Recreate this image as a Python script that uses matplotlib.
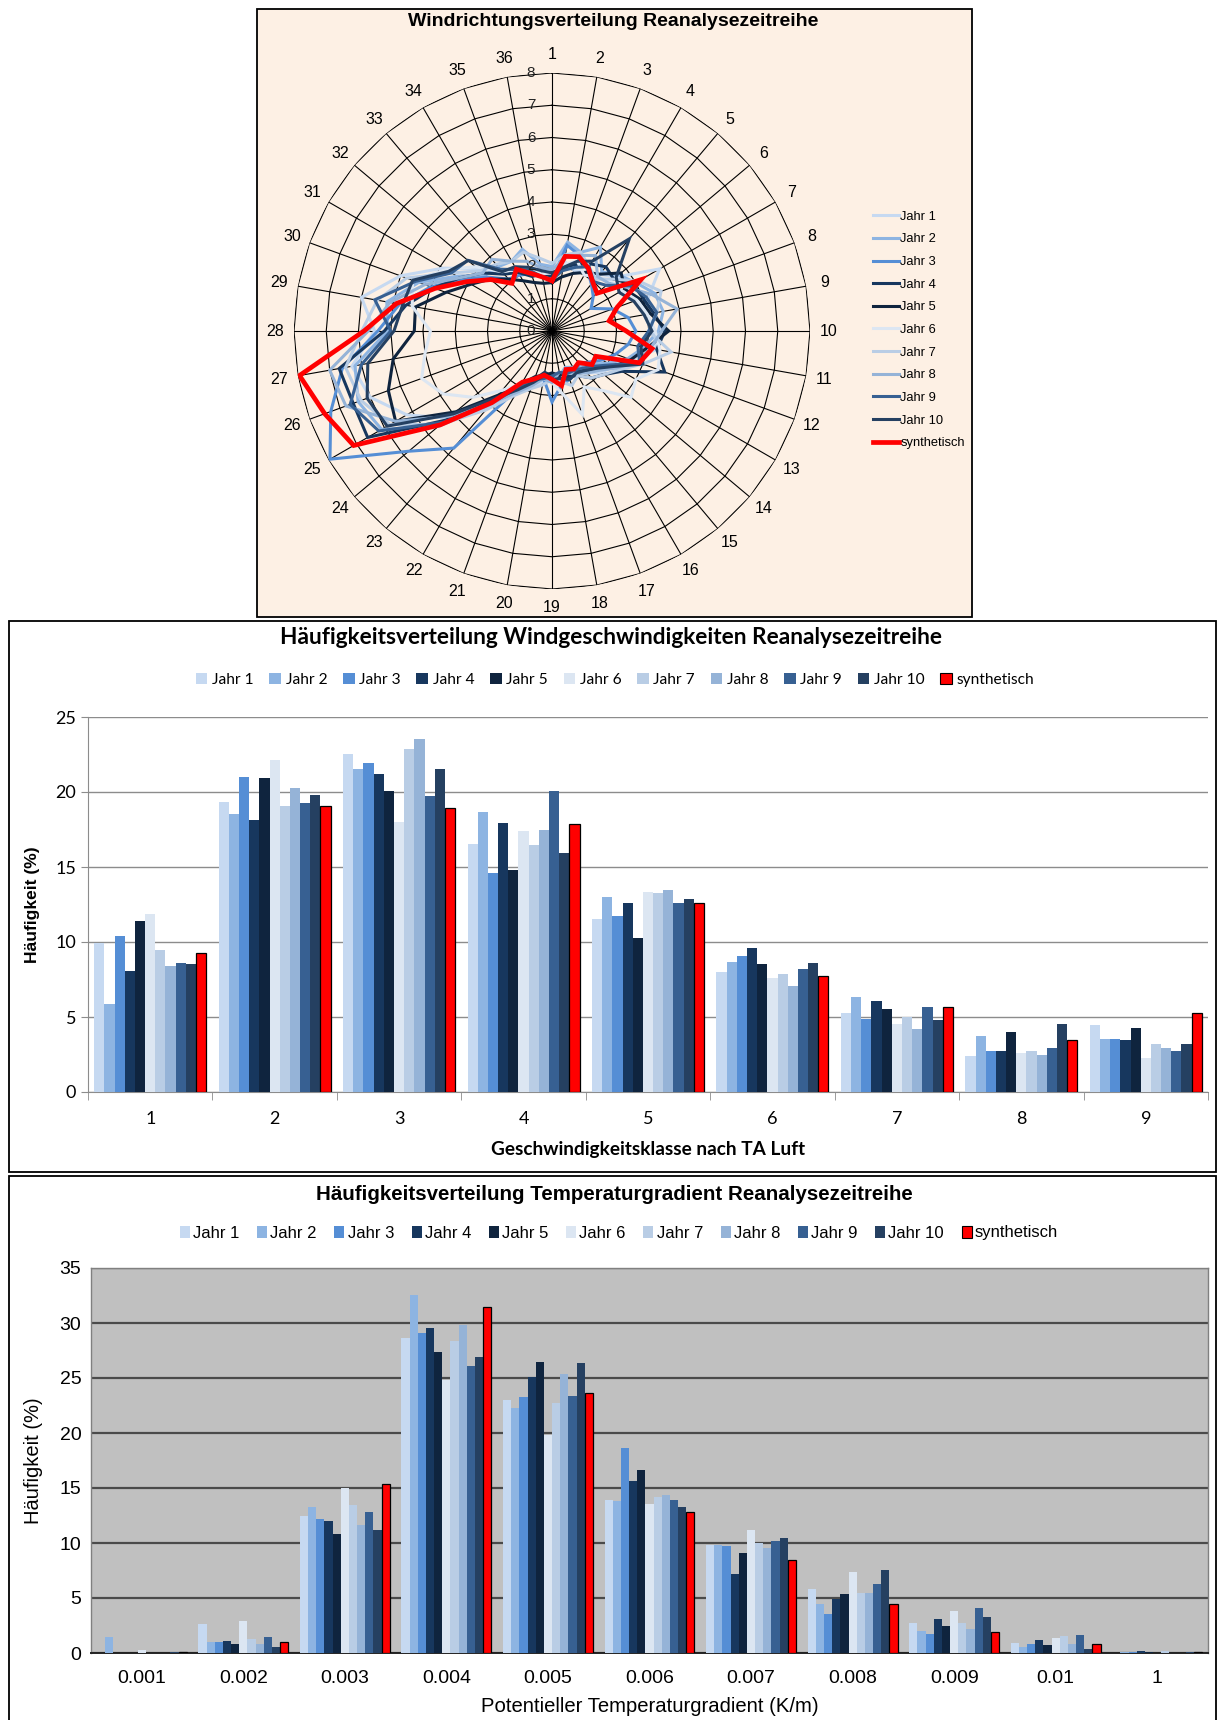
import numpy as np
import matplotlib
matplotlib.use("Agg")
import matplotlib.pyplot as plt
from matplotlib.patches import Rectangle
from matplotlib.lines import Line2D

# ---------------- data ----------------
series_names = ["Jahr 1", "Jahr 2", "Jahr 3", "Jahr 4", "Jahr 5", "Jahr 6",
                "Jahr 7", "Jahr 8", "Jahr 9", "Jahr 10", "synthetisch"]
colors = ["#c6d9f1", "#8db4e2", "#558ed5", "#17375e", "#0f243e", "#dce6f2",
          "#b9cde5", "#95b3d7", "#376092", "#254061", "#ff0000"]

# wind direction sectors 1..36 (radar)
directions = [str(i) for i in range(1, 37)]
radar_ticks = [0, 1, 2, 3, 4, 5, 6, 7, 8]
wd_j1 = [1.9, 2.2, 2.0, 2.1, 2.3, 2.6, 3.85, 3.2, 2.9, 3.1, 3.3, 2.6, 2.2, 2.0, 1.7, 1.5, 1.6, 1.4,
         1.5, 1.6, 1.8, 2.2, 3.1, 4.2, 5.2, 6.0, 6.3, 5.5, 6.0, 5.0, 3.9, 3.0, 2.4, 2.3, 2.1, 1.9]
wd_j2 = [2.0, 2.8, 2.6, 3.0, 2.4, 2.7, 3.0, 3.4, 3.5, 3.3, 2.9, 2.5, 2.0, 1.6, 1.4, 1.3, 1.2, 1.4,
         1.5, 1.4, 1.7, 2.1, 3.0, 4.6, 6.1, 6.4, 6.2, 5.1, 5.2, 4.4, 3.4, 2.7, 2.6, 2.5, 2.7, 2.1]
wd_j3 = [1.6, 2.7, 2.5, 2.2, 1.9, 1.67, 1.4, 2.0, 2.4, 2.6, 2.4, 2.1, 1.8, 1.5, 1.3, 1.5, 1.6, 1.7,
         2.2, 1.5, 1.6, 2.0, 4.74, 5.8, 7.95, 7.3, 6.6, 5.4, 4.8, 4.0, 3.2, 2.6, 2.1, 2.0, 1.9, 1.7]
wd_j4 = [1.7, 2.0, 2.2, 2.4, 2.6, 2.5, 2.9, 3.0, 3.2, 3.5, 3.3, 3.72, 2.5, 2.1, 1.9, 1.6, 1.5, 1.5,
         1.4, 1.3, 1.6, 2.0, 2.8, 4.3, 6.6, 6.56, 6.7, 5.2, 4.6, 3.9, 3.3, 2.8, 2.3, 2.1, 1.8, 1.8]
wd_j5 = [1.5, 1.7, 1.9, 2.1, 2.3, 2.8, 2.6, 2.9, 3.1, 3.62, 3.0, 2.6, 2.2, 1.8, 1.6, 1.4, 1.3, 1.4,
         1.3, 1.4, 1.5, 1.9, 2.6, 3.9, 5.6, 5.4, 5.0, 4.27, 4.3, 3.5, 2.9, 2.5, 2.1, 1.8, 1.6, 1.5]
wd_j6 = [1.8, 2.1, 2.3, 2.0, 2.2, 2.4, 2.5, 2.8, 3.0, 3.2, 3.4, 3.5, 3.0, 3.2, 2.4, 2.0, 2.76, 2.0,
         1.6, 1.5, 1.7, 1.9, 2.4, 3.2, 3.9, 4.3, 4.0, 3.77, 4.4, 4.6, 3.8, 3.1, 2.4, 2.2, 1.9, 1.8]
wd_j7 = [2.1, 2.4, 2.6, 2.3, 2.1, 2.5, 3.1, 3.6, 3.3, 3.0, 3.75, 3.0, 2.4, 2.1, 1.9, 1.6, 1.8, 1.6,
         1.5, 1.7, 1.9, 2.3, 3.2, 4.5, 5.8, 6.3, 6.5, 5.9, 5.5, 4.8, 3.6, 2.9, 2.7, 2.5, 2.6, 2.3]
wd_j8 = [1.9, 2.3, 2.5, 2.7, 2.2, 2.3, 2.7, 3.3, 3.94, 3.4, 3.1, 2.8, 2.3, 1.9, 1.7, 1.5, 1.4, 1.3,
         1.6, 1.5, 1.8, 2.2, 2.9, 4.1, 5.6, 6.8, 7.0, 5.7, 5.1, 4.2, 3.3, 2.8, 2.9, 2.5, 2.3, 2.0]
wd_j9 = [1.6, 1.9, 2.1, 2.3, 2.0, 2.2, 2.8, 3.1, 3.3, 3.0, 2.7, 2.9, 2.1, 1.7, 1.5, 1.4, 1.4, 1.3,
         1.4, 1.5, 1.6, 2.0, 2.9, 4.4, 6.2, 6.66, 6.0, 5.0, 5.58, 4.5, 3.6, 3.41, 2.5, 2.2, 2.0, 1.7]
wd_j10 = [1.8, 2.0, 2.3, 2.5, 3.73, 2.6, 2.4, 2.7, 2.9, 3.1, 2.8, 3.0, 2.2, 1.8, 1.6, 1.5, 1.6, 1.5,
          1.5, 1.4, 1.7, 2.1, 2.7, 4.0, 5.9, 6.1, 5.8, 4.9, 4.7, 4.6, 3.7, 3.4, 2.4, 2.3, 2.1, 1.9]
wd_syn = [1.56, 2.35, 2.45, 2.25, 1.97, 1.82, 3.18, 2.15, 1.8, 2.3, 3.15, 2.88, 1.57, 1.62, 1.28, 1.36,
          1.27, 1.72, 1.5, 1.39, 1.58, 1.83, 2.9, 4.53, 7.1, 7.5, 7.95, 5.83, 4.9, 3.86, 3.06, 2.48,
          1.93, 2.21, 1.9, 1.7]

# wind speed classes (TA Luft)
speed_classes = ["1", "2", "3", "4", "5", "6", "7", "8", "9"]
ws_ticks = [0, 5, 10, 15, 20, 25]
ws_j1 = [9.95, 19.32, 22.50, 16.50, 11.52, 7.97, 5.27, 2.39, 4.48]
ws_j2 = [5.89, 18.51, 21.54, 18.65, 12.98, 8.68, 6.35, 3.75, 3.51]
ws_j3 = [10.38, 20.99, 21.95, 14.62, 11.71, 9.09, 4.84, 2.72, 3.51]
ws_j4 = [8.04, 18.15, 21.18, 17.92, 12.62, 9.59, 6.08, 2.74, 3.44]
ws_j5 = [11.40, 20.92, 20.04, 14.81, 10.26, 8.56, 5.51, 3.98, 4.27]
ws_j6 = [11.86, 22.16, 18.01, 17.37, 13.36, 7.61, 4.51, 2.62, 2.27]
ws_j7 = [9.49, 19.06, 22.88, 16.44, 13.24, 7.87, 4.99, 2.74, 3.17]
ws_j8 = [8.42, 20.28, 23.52, 17.44, 13.48, 7.04, 4.17, 2.50, 2.96]
ws_j9 = [8.59, 19.27, 19.75, 20.04, 12.62, 8.18, 5.68, 2.93, 2.74]
ws_j10 = [8.52, 19.80, 21.52, 15.96, 12.86, 8.59, 4.77, 4.56, 3.22]
ws_syn = [9.28, 19.04, 18.96, 17.89, 12.62, 7.73, 5.68, 3.46, 5.25]

# potential temperature gradient classes
grad_classes = ["0.001", "0.002", "0.003", "0.004", "0.005", "0.006", "0.007",
                "0.008", "0.009", "0.01", "1"]
tg_ticks = [0, 5, 10, 15, 20, 25, 30, 35]
tg_j1 = [0.0, 2.63, 12.44, 28.67, 23.00, 13.89, 9.84, 5.82, 2.69, 0.89, 0.0]
tg_j2 = [1.42, 0.98, 13.26, 32.56, 22.28, 13.80, 9.81, 4.46, 2.03, 0.54, 0.05]
tg_j3 = [0.0, 1.01, 12.15, 29.05, 23.29, 18.67, 9.72, 3.54, 1.71, 0.79, 0.05]
tg_j4 = [0.0, 1.11, 11.99, 29.59, 25.09, 15.63, 7.18, 4.87, 3.13, 1.14, 0.2]
tg_j5 = [0.0, 0.82, 10.82, 27.34, 26.49, 16.65, 9.11, 5.35, 2.41, 0.76, 0.05]
tg_j6 = [0.3, 2.94, 14.97, 24.84, 19.84, 13.51, 11.20, 7.34, 3.80, 1.39, 0.0]
tg_j7 = [0.0, 1.27, 13.48, 28.35, 22.69, 14.18, 10.00, 5.41, 2.72, 1.52, 0.15]
tg_j8 = [0.0, 0.82, 11.61, 29.84, 25.35, 14.37, 9.56, 5.41, 2.18, 0.79, 0.0]
tg_j9 = [0.0, 1.46, 12.78, 26.11, 23.39, 13.92, 10.19, 6.27, 4.08, 1.65, 0.0]
tg_j10 = [0.05, 0.57, 11.14, 26.93, 26.36, 13.26, 10.41, 7.56, 3.29, 0.32, 0.05]
tg_syn = [0.05, 1.04, 15.38, 31.42, 23.67, 12.85, 8.45, 4.46, 1.90, 0.79, 0.1]

wd_all = [wd_j1, wd_j2, wd_j3, wd_j4, wd_j5, wd_j6, wd_j7, wd_j8, wd_j9, wd_j10, wd_syn]
ws_all = [ws_j1, ws_j2, ws_j3, ws_j4, ws_j5, ws_j6, ws_j7, ws_j8, ws_j9, ws_j10, ws_syn]
tg_all = [tg_j1, tg_j2, tg_j3, tg_j4, tg_j5, tg_j6, tg_j7, tg_j8, tg_j9, tg_j10, tg_syn]

# ---------------- figure ----------------
W, H = 1219, 1720
fig = plt.figure(figsize=(W / 100, H / 100), dpi=100)
fig.patch.set_facecolor("white")

ARIAL = ["Liberation Sans", "DejaVu Sans"]
CALIBRI = ["Lato", "DejaVu Sans"]


def fx(px):
    return px / W


def fy(py):
    return 1 - py / H


def panel(x0, y0, x1, y1, fc):
    fig.patches.append(Rectangle((fx(x0), fy(y1)), fx(x1 - x0), (y1 - y0) / H,
                                 transform=fig.transFigure, facecolor=fc,
                                 edgecolor="black", lw=1.3, zorder=-10))


panel(257, 9, 972, 617, "#fdf0e4")
panel(9, 621, 1216, 1172, "white")
panel(9, 1176, 1216, 1730, "white")

# ---------------- radar ----------------
cx, cy, R = 552, 331, 258
axr = fig.add_axes([fx(cx - R), fy(cy + R), fx(2 * R), 2 * R / H], projection="polar")
axr.set_facecolor("none")
axr.set_theta_zero_location("N")
axr.set_theta_direction(-1)
axr.set_ylim(0, 8)
axr.set_xticks([])
axr.set_yticks([])
axr.grid(False)
axr.spines["polar"].set_visible(False)

n = len(directions)
theta = np.deg2rad(np.arange(n) * 360.0 / n)
thc = np.append(theta, theta[0])
for r in radar_ticks[1:]:
    axr.plot(thc, np.full(n + 1, r), color="black", lw=0.8, zorder=1)
for t in theta:
    axr.plot([t, t], [0, 8], color="black", lw=0.8, zorder=1)
for r in radar_ticks:
    axr.annotate(str(r), xy=(0, r), xytext=(-12, 0), textcoords="offset points",
                 ha="right", va="center", fontsize=11, family=ARIAL, color="#222222")
for t, lab in zip(theta, directions):
    axr.text(t, 8.58, lab, ha="center", va="center", fontsize=11.5, family=ARIAL)

handles = []
for i, (name, vals) in enumerate(zip(series_names, wd_all)):
    lw = 3.4 if i == 10 else 2.2
    axr.plot(thc, np.append(vals, vals[0]), color=colors[i], lw=lw,
             zorder=3 if i == 10 else 2, solid_joinstyle="miter")
    handles.append(Line2D([], [], color=colors[i], lw=lw))
fig.legend(handles, series_names, loc="center left", bbox_to_anchor=(fx(868), fy(330)),
           frameon=False, prop={"family": ARIAL, "size": 9.3}, handlelength=2.0,
           handletextpad=0.1, labelspacing=0.82, borderaxespad=0)
fig.text(fx(613), fy(22), "Windrichtungsverteilung Reanalysezeitreihe", ha="center",
         va="center", fontsize=14, fontweight="bold", family=ARIAL)


# ---------------- grouped bar helper ----------------
def grouped(ax, data, cats, group_w):
    k = len(data)
    bw = group_w / k
    x = np.arange(len(cats))
    for i, vals in enumerate(data):
        ec = "black" if i == k - 1 else "none"
        ax.bar(x + (i - (k - 1) / 2) * bw, vals, width=bw, color=colors[i],
               edgecolor=ec, linewidth=0.9 if i == k - 1 else 0, zorder=3)
    ax.set_xlim(-0.5, len(cats) - 0.5)
    ax.set_xticks(x)
    ax.set_xticklabels(cats)


sq_handles = [Rectangle((0, 0), 1, 1, facecolor=c, edgecolor=("black" if i == 10 else "none"),
                        lw=0.8) for i, c in enumerate(colors)]

# ---------------- wind speed ----------------
ax2 = fig.add_axes([fx(88), fy(1092), fx(1208 - 88), (1092 - 717) / H])
grouped(ax2, ws_all, speed_classes, 0.9)
ax2.set_ylim(0, 25)
ax2.set_yticks(ws_ticks)
ax2.yaxis.grid(True, color="#8c8c8c", lw=1.0, zorder=0)
ax2.set_axisbelow(True)
for s in ["top", "right"]:
    ax2.spines[s].set_visible(False)
for s in ["left", "bottom"]:
    ax2.spines[s].set_color("#8c8c8c")
ax2.tick_params(axis="x", which="major", length=0, pad=14, labelsize=13)
ax2.set_xticks(np.arange(len(speed_classes) + 1) - 0.5, minor=True)
ax2.tick_params(axis="x", which="minor", length=6, color="#8c8c8c")
ax2.tick_params(axis="y", length=5, color="#8c8c8c", labelsize=13, direction="out")
for lab in ax2.get_xticklabels() + ax2.get_yticklabels():
    lab.set_family(CALIBRI)
ax2.set_ylabel("Häufigkeit (%)", fontsize=12.5, fontweight="bold", family=ARIAL, labelpad=11)
fig.text(fx(611), fy(637), "Häufigkeitsverteilung Windgeschwindigkeiten Reanalysezeitreihe",
         ha="center", va="center", fontsize=16.3, fontweight="bold", family=CALIBRI)
fig.text(fx(648), fy(1149), "Geschwindigkeitsklasse nach TA Luft", ha="center", va="center",
         fontsize=13.7, fontweight="bold", family=CALIBRI)
fig.legend(sq_handles, series_names, loc="center", bbox_to_anchor=(fx(615), fy(680)), ncol=11,
           frameon=False, prop={"family": CALIBRI, "size": 11.2}, handlelength=0.75,
           handleheight=0.75, handletextpad=0.3, columnspacing=1.0, borderaxespad=0)

# ---------------- temperature gradient ----------------
ax3 = fig.add_axes([fx(91), fy(1653), fx(1208 - 91), (1653 - 1268) / H])
grouped(ax3, tg_all, grad_classes, 0.885)
ax3.set_facecolor("#c0c0c0")
ax3.set_ylim(0, 35)
ax3.set_yticks(tg_ticks)
ax3.yaxis.grid(True, color="#4a4a4a", lw=1.6, zorder=0)
ax3.set_axisbelow(True)
for s in ["top", "right", "left"]:
    ax3.spines[s].set_color("#808080")
    ax3.spines[s].set_linewidth(1.0)
ax3.spines["bottom"].set_color("#222222")
ax3.spines["bottom"].set_linewidth(1.4)
ax3.tick_params(axis="x", length=0, pad=12, labelsize=14)
ax3.tick_params(axis="y", length=0, pad=7, labelsize=14)
for lab in ax3.get_xticklabels() + ax3.get_yticklabels():
    lab.set_family(ARIAL)
ax3.set_ylabel("Häufigkeit (%)", fontsize=14.5, family=ARIAL, labelpad=12)
fig.text(fx(614), fy(1195), "Häufigkeitsverteilung Temperaturgradient Reanalysezeitreihe",
         ha="center", va="center", fontsize=14.8, fontweight="bold", family=ARIAL)
fig.text(fx(650), fy(1707), "Potentieller Temperaturgradient (K/m)", ha="center", va="center",
         fontsize=14.6, family=ARIAL)
fig.legend(sq_handles, series_names, loc="center", bbox_to_anchor=(fx(619), fy(1233)), ncol=11,
           frameon=False, prop={"family": ARIAL, "size": 12}, handlelength=0.6,
           handleheight=0.75, handletextpad=0.2, columnspacing=1.05, borderaxespad=0)

fig.savefig("out.png", dpi=100)
